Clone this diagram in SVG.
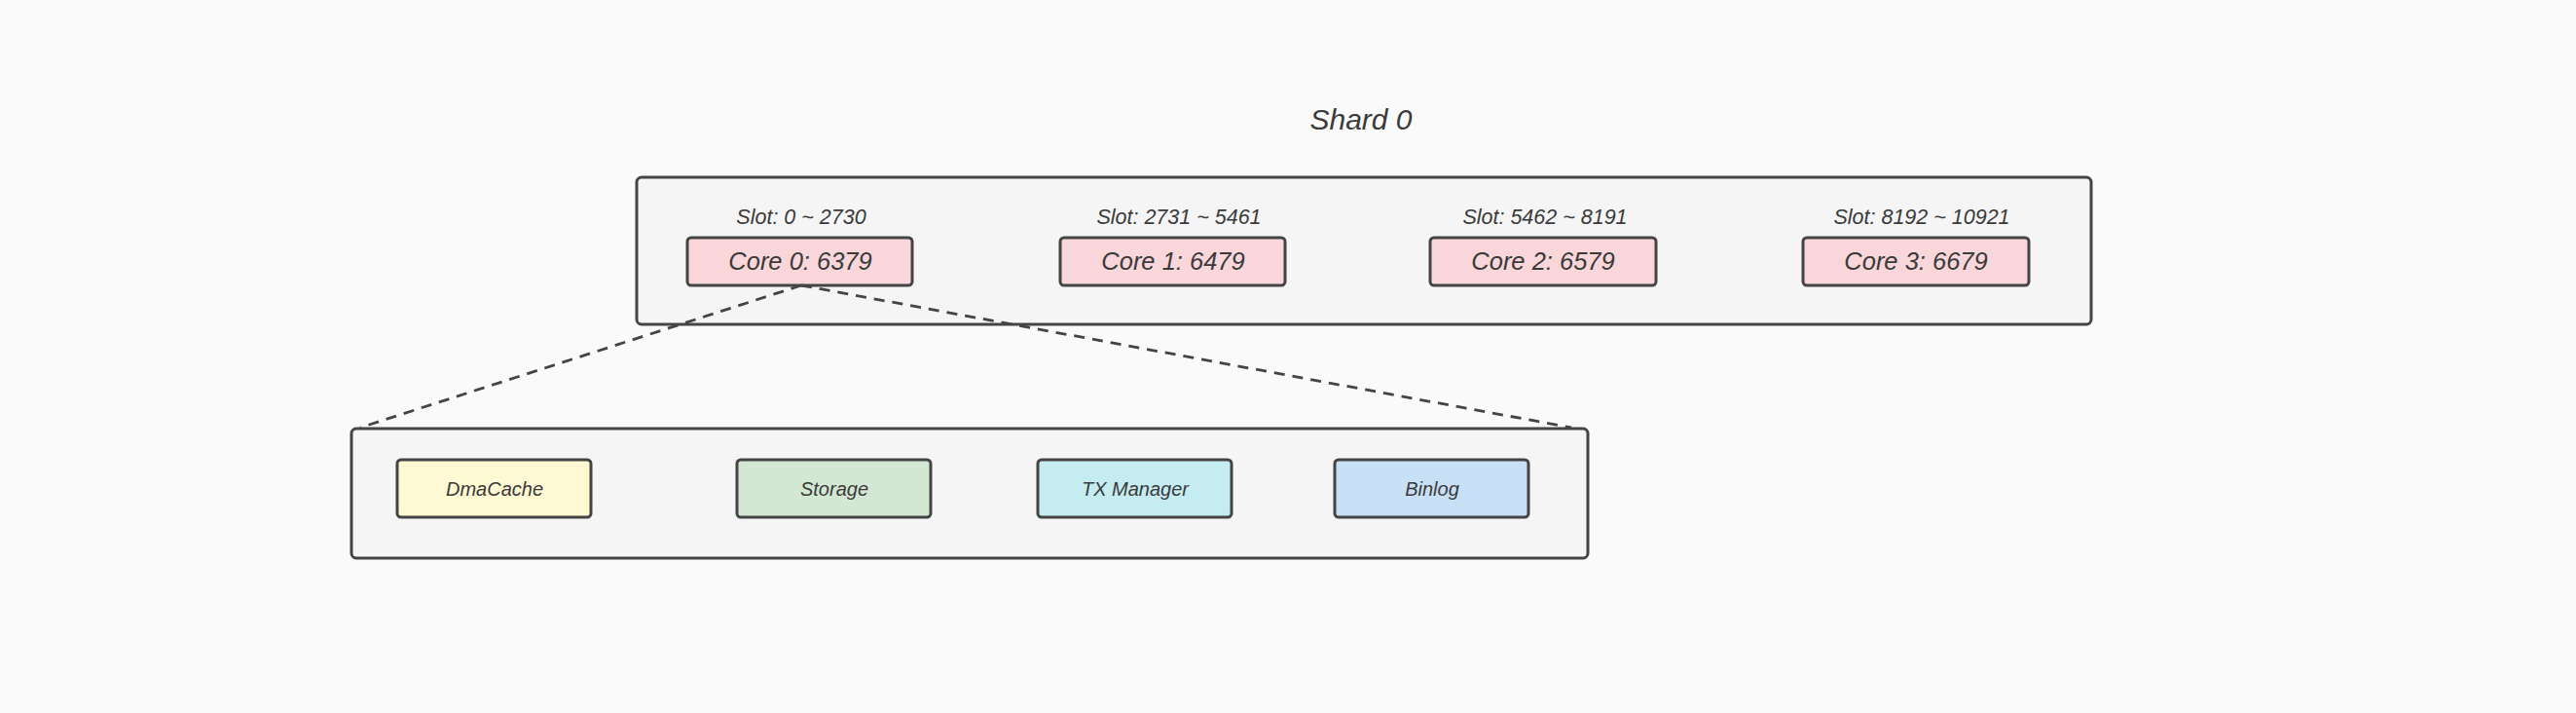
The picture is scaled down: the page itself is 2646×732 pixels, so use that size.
<svg xmlns="http://www.w3.org/2000/svg" width="2646" height="732" viewBox="0 0 2646 732">
<defs>
<style>
.bg{fill:#fafafa}
.frame{fill:#f5f5f5;stroke:#444;stroke-width:3}
.box{stroke:#444;stroke-width:3}
.core{fill:#f9d6da}
.t{font-family:"Liberation Sans",Arial,sans-serif;font-style:italic;fill:#3a3a3a;text-anchor:middle}
.slot{font-size:21.5px}
.coret{font-size:25.5px}
.mod{font-size:20px}
.title{font-size:30px}
.dash{fill:none;stroke:#444;stroke-width:2.8;stroke-dasharray:11 8}
</style>
</defs>
<rect class="bg" x="0" y="0" width="2646" height="732"/>
<text class="t title" x="1398" y="133">Shard 0</text>
<g id="shard-frame">
<rect class="frame" x="654" y="182" width="1494" height="151" rx="5"/>
</g>
<g id="core0">
<text class="t slot" x="823" y="230">Slot: 0 ~ 2730</text>
<rect class="box core" x="706" y="244" width="231" height="49" rx="4"/>
<text class="t coret" x="822" y="277">Core 0: 6379</text>
</g>
<g id="core1">
<text class="t slot" x="1211" y="230">Slot: 2731 ~ 5461</text>
<rect class="box core" x="1089" y="244" width="231" height="49" rx="4"/>
<text class="t coret" x="1205" y="277">Core 1: 6479</text>
</g>
<g id="core2">
<text class="t slot" x="1587" y="230">Slot: 5462 ~ 8191</text>
<rect class="box core" x="1469" y="244" width="232" height="49" rx="4"/>
<text class="t coret" x="1585" y="277">Core 2: 6579</text>
</g>
<g id="core3">
<text class="t slot" x="1974" y="230">Slot: 8192 ~ 10921</text>
<rect class="box core" x="1852" y="244" width="232" height="49" rx="4"/>
<text class="t coret" x="1968" y="277">Core 3: 6679</text>
</g>
<g id="core-detail">
<rect class="frame" x="361" y="440" width="1270" height="133" rx="5"/>
</g>
<g id="connectors">
<path class="dash" d="M823 293 L370 439"/>
<path class="dash" d="M823 293 L1614 439"/>
</g>
<g id="dmacache">
<rect class="box" fill="#fef9d2" x="408" y="472" width="199" height="59" rx="4"/>
<text class="t mod" x="508" y="509">DmaCache</text>
</g>
<g id="storage">
<rect class="box" fill="#d3e8d3" x="757" y="472" width="199" height="59" rx="4"/>
<text class="t mod" x="857" y="509">Storage</text>
</g>
<g id="txmanager">
<rect class="box" fill="#c4ecf1" x="1066" y="472" width="199" height="59" rx="4"/>
<text class="t mod" x="1166" y="509">TX Manager</text>
</g>
<g id="binlog">
<rect class="box" fill="#c7e0f6" x="1371" y="472" width="199" height="59" rx="4"/>
<text class="t mod" x="1471" y="509">Binlog</text>
</g>
</svg>
